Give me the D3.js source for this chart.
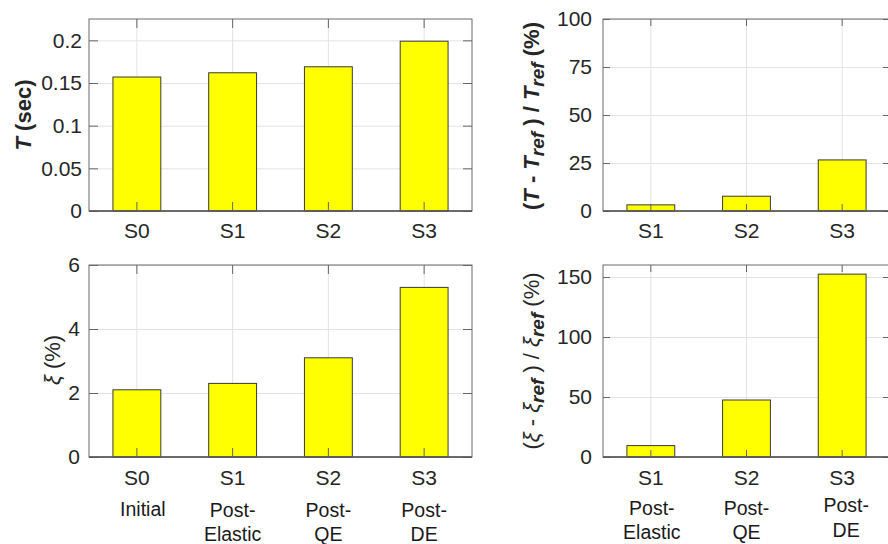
<!DOCTYPE html>
<html>
<head>
<meta charset="utf-8">
<script src="https://cdn.jsdelivr.net/npm/d3@7"></script>
<style>
  html, body { margin: 0; padding: 0; background: #fff; }
  svg { display: block; font-family: "Liberation Sans", Arial, sans-serif; }
</style>
</head>
<body>
<svg id="chart" width="888" height="544"></svg>
<script>
// ---- data ----
const stagesAll = ["S0", "S1", "S2", "S3"];
const stagesRel = ["S1", "S2", "S3"];
const descAll = [["Initial"], ["Post-", "Elastic"], ["Post-", "QE"], ["Post-", "DE"]];
const descRel = [["Post-", "Elastic"], ["Post-", "QE"], ["Post-", "DE"]];
const periodT = [0.157, 0.162, 0.169, 0.199];
const periodChange = [3.2, 7.7, 26.6];
const damping = [2.1, 2.3, 3.1, 5.3];
const dampingChange = [9.5, 47.5, 152.4];
const ticksT = [0, 0.05, 0.1, 0.15, 0.2];
const ticksTChange = [0, 25, 50, 75, 100];
const ticksXi = [0, 2, 4, 6];
const ticksXiChange = [0, 50, 100, 150];

const svg = d3.select("#chart");
const TXT = "#262626";
const FS = 21;

function panel(o) {
  const w = o.right - o.left, h = o.bottom - o.top;
  const g = svg.append("g").attr("transform", `translate(${o.left},${o.top})`);
  const x = d3.scaleBand().domain(o.cats).range([0, w]).paddingInner(0.5).paddingOuter(0.25);
  const y = d3.scaleLinear().domain(o.ydom).range([h, 0]);

  // grid
  g.append("g").attr("class", "grid")
    .call(d3.axisLeft(y).tickValues(o.yticks).tickSize(-w).tickFormat(""))
    .call(s => s.select(".domain").remove())
    .call(s => s.selectAll("line").attr("stroke", "#e3e3e3"));
  g.append("g").attr("class", "grid").attr("transform", `translate(0,${h})`)
    .call(d3.axisBottom(x).tickSize(-h).tickFormat(""))
    .call(s => s.select(".domain").remove())
    .call(s => s.selectAll("line").attr("stroke", "#e3e3e3"));

  // mirrored inner ticks
  const tl = o.tickLen;
  g.append("g").attr("transform", `translate(${w},0)`)
    .call(d3.axisRight(y).tickValues(o.yticks).tickSize(-tl).tickFormat(""))
    .call(s => s.select(".domain").remove())
    .call(s => s.selectAll("line").attr("stroke", "#666"));
  g.append("g")
    .call(d3.axisTop(x).tickSize(-tl).tickFormat(""))
    .call(s => s.select(".domain").remove())
    .call(s => s.selectAll("line").attr("stroke", "#666"));

  // bars
  g.selectAll("rect.bar").data(o.values).join("rect")
    .attr("class", "bar")
    .attr("x", (d, i) => x(o.cats[i]))
    .attr("width", x.bandwidth())
    .attr("y", d => y(d))
    .attr("height", d => h - y(d))
    .attr("fill", "#ffff00")
    .attr("stroke", "#3a3a3a")
    .attr("stroke-width", 1);

  // left axis
  g.append("g")
    .call(d3.axisLeft(y).tickValues(o.yticks).tickSize(-tl).tickPadding(o.ypad).tickFormat(o.yfmt))
    .call(s => s.select(".domain").remove())
    .call(s => s.selectAll("line").attr("stroke", "#666"))
    .call(s => s.selectAll("text").attr("fill", TXT).attr("font-size", FS));
  // bottom axis
  g.append("g").attr("transform", `translate(0,${h})`)
    .call(d3.axisBottom(x).tickSize(-tl).tickPadding(o.xpad))
    .call(s => s.select(".domain").remove())
    .call(s => s.selectAll("line").attr("stroke", "#666"))
    .call(s => s.selectAll("text").attr("fill", TXT).attr("font-size", FS));

  // frame
  g.append("rect").attr("x", 0).attr("y", 0).attr("width", w).attr("height", h)
    .attr("fill", "none").attr("stroke", "#6a6a6a").attr("stroke-width", 1);
  g.append("line").attr("x1", 0).attr("x2", w).attr("y1", h).attr("y2", h)
    .attr("stroke", "#555").attr("stroke-width", 1.3);

  // descriptive labels
  if (o.desc) {
    o.desc.forEach((lines, i) => {
      lines.forEach((t, j) => {
        g.append("text")
          .attr("x", x(o.cats[i]) + x.bandwidth() / 2 + (o.descDx[i] || 0))
          .attr("y", h + o.descY[i][j])
          .attr("text-anchor", "middle")
          .attr("fill", "#1a1a1a")
          .attr("font-size", 19.5)
          .text(t);
      });
    });
  }

  // y label
  const lab = svg.append("text")
    .attr("transform", `translate(${o.labX},${o.labY}) rotate(-90)`)
    .attr("text-anchor", "middle")
    .attr("fill", TXT)
    .attr("font-size", 22)
    .attr("font-weight", o.labBold ? "bold" : "normal");
  o.label.forEach(p => {
    const ts = lab.append("tspan").text(p.t);
    if (p.i) ts.attr("font-style", "italic");
    if (p.sub) ts.attr("font-size", 19).attr("baseline-shift", "-28%").attr("font-style", "italic").attr("font-weight", "bold");
  });
}

panel({
  left: 89, right: 472, top: 19, bottom: 211,
  cats: stagesAll, values: periodT, ydom: [0, 0.225], yticks: ticksT,
  yfmt: d3.format("~g"), tickLen: 9, ypad: 7, xpad: 12,
  labX: 31, labY: 115, labBold: true,
  label: [{t: "T", i: true}, {t: " (sec)"}]
});

panel({
  left: 603, right: 890, top: 19, bottom: 211,
  cats: stagesRel, values: periodChange, ydom: [0, 100], yticks: ticksTChange,
  yfmt: d3.format("d"), tickLen: 7, ypad: 11, xpad: 12,
  labX: 539, labY: 116, labBold: true,
  label: [{t: "("}, {t: "T", i: true}, {t: " - "}, {t: "T", i: true}, {t: "ref", sub: true},
          {t: " ) / "}, {t: "T", i: true}, {t: "ref", sub: true}, {t: " (%)"}]
});

panel({
  left: 89, right: 472, top: 265, bottom: 457,
  cats: stagesAll, values: damping, ydom: [0, 6], yticks: ticksXi,
  yfmt: d3.format("d"), tickLen: 9, ypad: 9, xpad: 13,
  labX: 60, labY: 360, labBold: false,
  label: [{t: "ξ", i: true}, {t: " (%)"}],
  desc: descAll, descDx: [6, 0, 0, 0], descY: [[59], [60, 84], [60, 84], [60, 84]]
});

panel({
  left: 603, right: 890, top: 265, bottom: 457,
  cats: stagesRel, values: dampingChange, ydom: [0, 160], yticks: ticksXiChange,
  yfmt: d3.format("d"), tickLen: 7, ypad: 11, xpad: 13,
  labX: 539, labY: 361, labBold: false,
  label: [{t: "("}, {t: "ξ", i: true}, {t: " - "}, {t: "ξ", i: true}, {t: "ref", sub: true},
          {t: " ) / "}, {t: "ξ", i: true}, {t: "ref", sub: true}, {t: " (%)"}],
  desc: descRel, descDx: [1, 0, 4], descY: [[58, 82], [58, 82], [55, 80]]
});
</script>
</body>
</html>
